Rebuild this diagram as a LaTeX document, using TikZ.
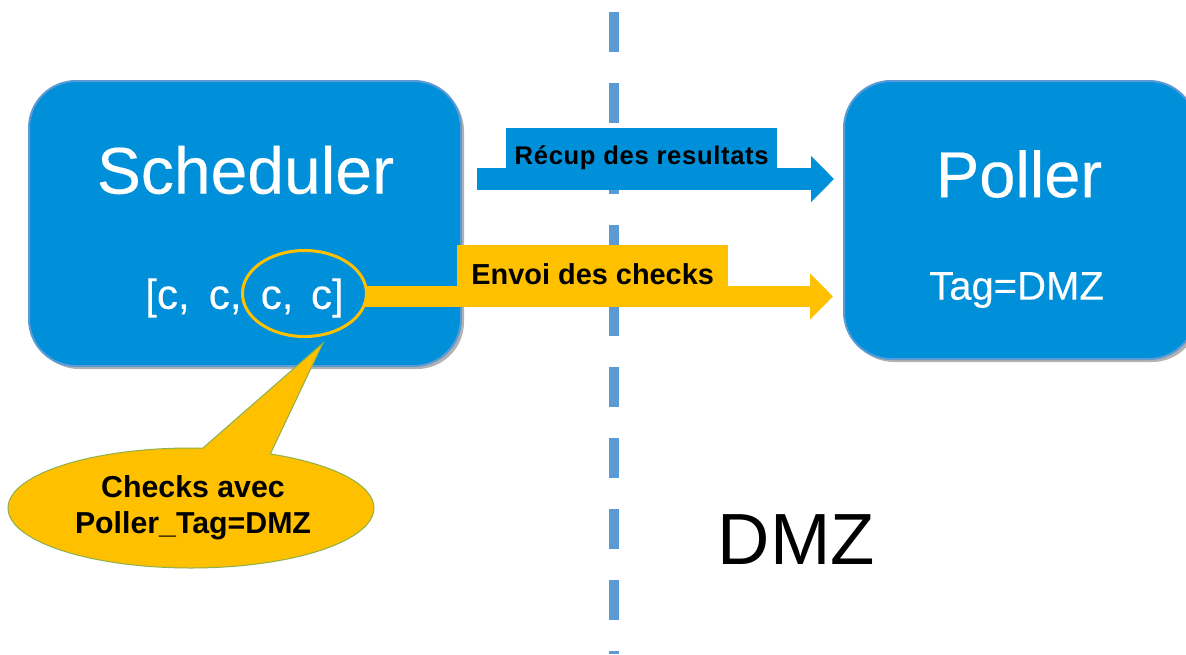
\documentclass[tikz,border=0pt]{standalone}
\usepackage{fontspec}
\setmainfont{Liberation Sans}
\newfontfamily\heavyish[FakeBold=0.25]{Liberation Sans}
\newfontfamily\spacedbold[LetterSpace=2.6]{Liberation Sans Bold}
\usetikzlibrary{arrows.meta,shapes.geometric,shapes.callouts,shadows,calc}
\definecolor{boxblue}{HTML}{0090DA}
\definecolor{edgeblue}{HTML}{5B9BD5}
\definecolor{amber}{HTML}{FFC000}
\definecolor{calloutedge}{HTML}{8DB04A}
\tikzset{
  x=1pt,y=-1pt,
  panel/.style={draw=edgeblue,line width=2pt,fill=boxblue,rounded corners=47pt,
    drop shadow={shadow xshift=3pt,shadow yshift=-3pt,fill=black,opacity=.3}},
  panellabel/.style={text=white,font=\heavyish\fontsize{66}{66}\selectfont,inner sep=0pt},
  sublabel/.style={text=white,inner sep=0pt},
  fatarrow/.style={line width=21.5pt,-{Triangle[length=23pt,width=45pt]}},
  tagbox/.style={inner sep=0pt,text=black,anchor=north west},
  divider/.style={edgeblue,line width=10pt,dash pattern=on 40pt off 31pt},
}
\begin{document}
\begin{tikzpicture}
\useasboundingbox (0,0) rectangle (1186,654);
\fill[white] (0,0) rectangle (1186,654);
% dashed boundary
\coordinate (divtop) at (614,12);
\coordinate (divbot) at (614,654);
\draw[divider] (divtop) -- (divbot);
% panels
\node[panel,anchor=north west,minimum width=432pt,minimum height=285pt,inner sep=0pt] (sched) at (28,80) {};
\node[panel,anchor=north west,minimum width=352pt,minimum height=278pt,inner sep=0pt] (poll) at (843,80) {};
\node[panellabel] (schedt) at (245.5,170) {Scheduler};
\node[panellabel,font=\heavyish\fontsize{65}{65}\selectfont] (pollt) at (1019,174) {Poller};
\node[sublabel,font=\heavyish\fontsize{42}{44}\selectfont] (queue) at (244.5,298) {[c,\hspace{.18em} c,\hspace{.18em} c,\hspace{.14em} c]};
\node[sublabel,font=\heavyish\fontsize{40}{42}\selectfont] (tag) at (1016.5,290) {Tag=DMZ};
% results arrow
\coordinate (bluestart) at (477,179);
\coordinate (bluetip) at (834,179);
\draw[fatarrow,boxblue] (bluestart) -- (bluetip);
\node[tagbox,fill=boxblue,minimum width=271pt,minimum height=60pt,font=\spacedbold\fontsize{25.6}{27}\selectfont] (recup) at (506,128) {Récup des resultats};
% checks arrow
\coordinate (ambertip) at (833,296.5);
\node[draw=amber,line width=3pt,ellipse,minimum width=124pt,minimum height=86pt,inner sep=0pt] (sel) at (304.5,293.5) {};
\draw[fatarrow,amber,shorten <=-3pt] (sel.east |- ambertip) -- (ambertip);
\node[tagbox,fill=amber,minimum width=271pt,minimum height=57pt,font=\bfseries\fontsize{28.9}{29}\selectfont] (envoi) at (457,245) {Envoi des checks};
% callout
\node[ellipse callout,draw=calloutedge,line width=1pt,fill=amber,minimum width=366pt,minimum height=120pt,inner sep=0pt,
  callout absolute pointer={(323,343)},callout pointer arc=22,align=center,
  font=\bfseries\fontsize{30.3}{36}\selectfont,text=black] (note) at (191,508) {\hspace*{4pt}Checks avec\\\hspace*{4pt}Poller\_Tag=DMZ};
% zone label
\node[inner sep=0pt,text=black,font=\fontsize{72.5}{73}\selectfont] (dmz) at (796.5,540) {DMZ};
\end{tikzpicture}
\end{document}
